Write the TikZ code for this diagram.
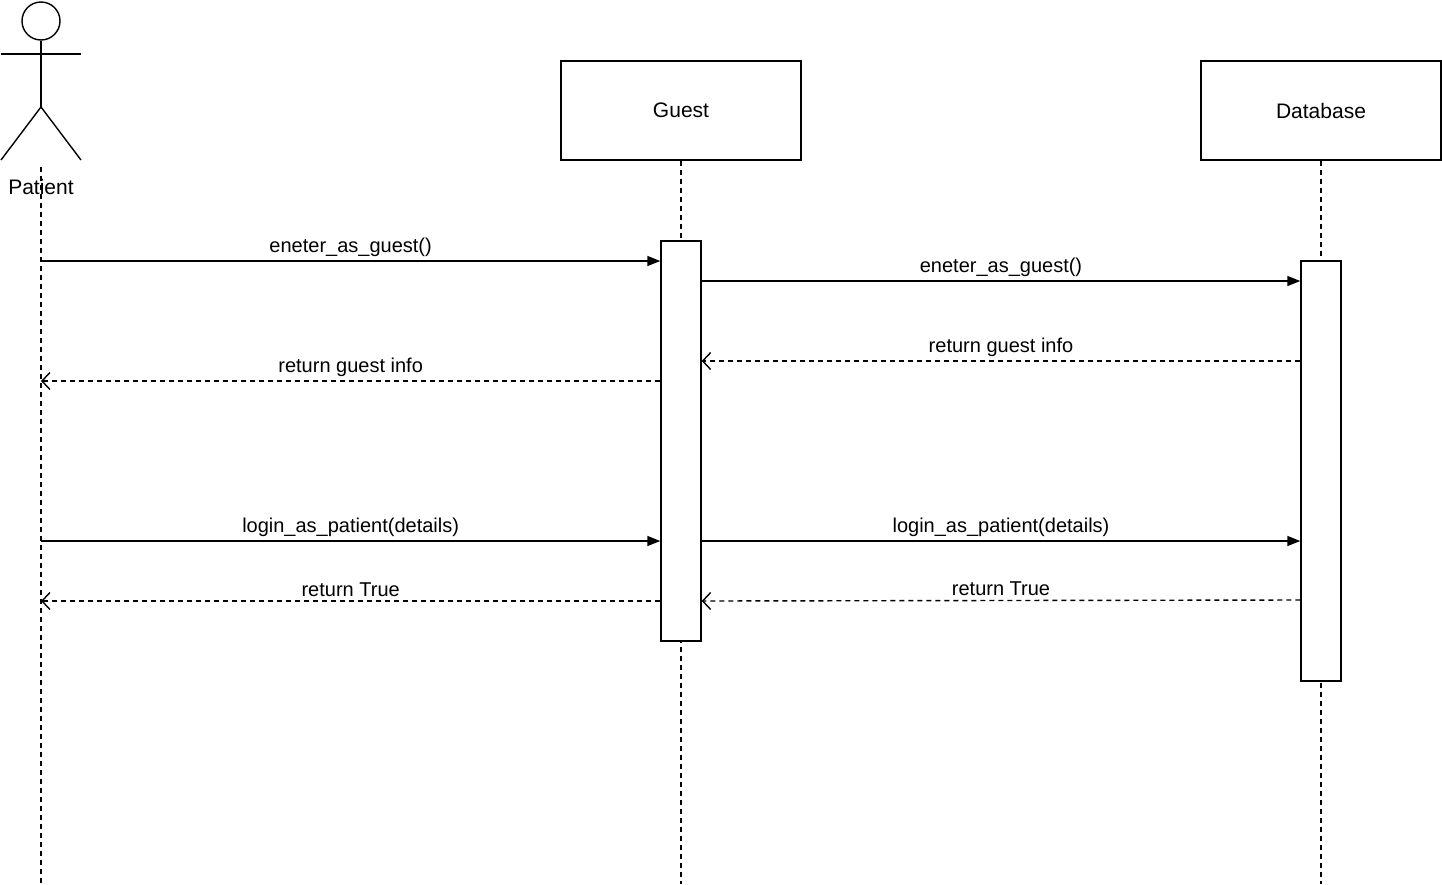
\documentclass[tikz,border=0pt]{standalone}
\usepackage{fontspec}
\setmainfont{Liberation Sans}
\usetikzlibrary{arrows.meta}
\begin{document}
\begin{tikzpicture}[x=1pt,y=-1pt,line width=1.4pt,
  box/.style={draw,minimum width=240pt,minimum height=99pt,font=\fontsize{21}{25}\selectfont},
  act/.style={draw,fill=white,minimum width=40pt},
  life/.style={dashed,dash pattern=on 5pt off 4pt},
  msg/.style={-{Triangle[length=13pt,width=10pt]}},
  ret/.style={dashed,dash pattern=on 5pt off 4pt,-{Straight Barb[length=8pt,width=17pt]}},
  lbl/.style={font=\fontsize{20}{24}\selectfont,fill=none,inner sep=1pt}]
\useasboundingbox (0,0) rectangle (1442,884);
% actor
\node[draw,circle,minimum size=38pt,inner sep=0] (head) at (41,21) {};
\coordinate (neck) at (41,40); \coordinate (hip) at (41,107);
\draw (head.south) -- (hip);
\draw (1,54) -- (81,54);
\draw (hip) -- (1,160); \draw (hip) -- (81,160);
\node[font=\fontsize{21}{25}\selectfont] (pl) at (41,187) {Patient};
\coordinate (pt) at (41,167); \coordinate (pb) at (41,884);
\draw[life] (pt) -- (pb);
% boxes
\node[box] (guest) at (681,110.5) {Guest};
\node[box] (db) at (1321,110.5) {Database};
\coordinate (gb) at (681,884); \coordinate (dbb) at (1321,884);
\draw[life] (guest.south) -- (gb);
\draw[life] (db.south) -- (dbb);
\node[act,minimum height=400pt] (ga) at (681,441) {};
\node[act,minimum height=420pt] (da) at (1321,471) {};
% messages
\coordinate (p1) at (41,261); \coordinate (p4) at (41,381);
\coordinate (p5) at (41,541); \coordinate (p8) at (41,601);
\draw[msg] (p1) -- (ga.west |- p1) node[lbl,midway,above=3pt] {eneter\_as\_guest()};
\draw[msg] (ga.east |- 0,281) -- (da.west |- 0,281) node[lbl,midway,above=3pt] {eneter\_as\_guest()};
\draw[ret] (da.west |- 0,361) -- (ga.east |- 0,361) node[lbl,midway,above=3pt] {return guest info};
\draw[ret] (ga.west |- p4) -- (p4) node[lbl,midway,above=3pt] {return guest info};
\draw[msg] (p5) -- (ga.west |- p5) node[lbl,midway,above=3pt] {login\_as\_patient(details)};
\draw[msg] (ga.east |- 0,541) -- (da.west |- 0,541) node[lbl,midway,above=3pt] {login\_as\_patient(details)};
\draw[ret] (da.west |- 0,600) -- (ga.east |- 0,601) node[lbl,midway,above=3pt] {return True};
\draw[ret] (ga.west |- p8) -- (p8) node[lbl,midway,above=3pt] {return True};
\end{tikzpicture}
\end{document}
